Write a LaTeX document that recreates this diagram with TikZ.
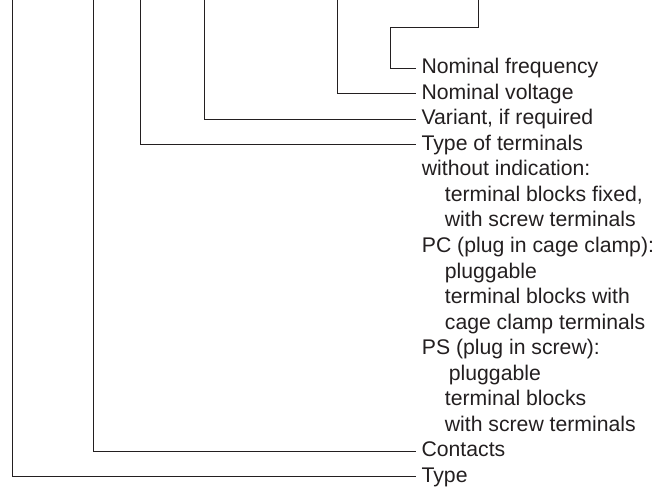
\documentclass[tikz,border=0pt]{standalone}
\usepackage{fontspec}
\setmainfont{Liberation Sans}
\definecolor{ink}{RGB}{35,31,32}
\begin{document}
\begin{tikzpicture}[x=0.5pt,y=-0.5pt,
  lbl/.style={anchor=west,inner sep=0pt,outer xsep=2.8pt,text height=0.72em,text depth=0.18em,
    font=\fontsize{10.6}{12.77}\selectfont,text=ink},
  txt/.style={anchor=west,inner sep=0pt,text height=0.72em,text depth=0.18em,
    font=\fontsize{10.6}{12.77}\selectfont,text=ink},
  conn/.style={draw=ink,line width=0.5pt}]
\useasboundingbox (0,0) rectangle (671,488);
% top ends of connectors
\coordinate (cType) at (12,0);
\coordinate (cCont) at (93.7,0);
\coordinate (cTerm) at (140.7,0);
\coordinate (cVar) at (204.5,0);
\coordinate (cVolt) at (337.3,0);
\coordinate (cFreq) at (478,0);
\coordinate (jA) at (478,27.7);
\coordinate (jB) at (390.7,27.7);
% labels
\node[lbl] (freq) at (416,68.3) {Nominal frequency};
\node[lbl] (volt) at (416,93.84) {Nominal voltage};
\node[lbl] (var) at (416,119.38) {Variant, if required};
\node[lbl] (term) at (416,144.92) {Type of terminals};
\node[txt] (t1) at (421.5,170.46) {without indication:};
\node[txt] (t2) at (444.5,196.0) {terminal blocks fixed,};
\node[txt] (t3) at (444.5,221.54) {with screw terminals};
\node[txt] (t4) at (421.5,247.08) {PC (plug in cage clamp):};
\node[txt] (t5) at (444.5,272.62) {pluggable};
\node[txt] (t6) at (444.5,298.16) {terminal blocks with};
\node[txt] (t7) at (444.5,323.7) {cage clamp terminals};
\node[txt] (t8) at (421.5,349.24) {PS (plug in screw):};
\node[txt] (t9) at (448.5,374.78) {pluggable};
\node[txt] (t10) at (444.5,400.32) {terminal blocks};
\node[txt] (t11) at (444.5,425.86) {with screw terminals};
\node[lbl] (cont) at (416,451.4) {Contacts};
\node[lbl] (type) at (416,476.94) {Type};
% connectors
\draw[conn] (cFreq) -- (jA) -- (jB) |- (freq.west);
\draw[conn] (cVolt) |- (volt.west);
\draw[conn] (cVar) |- (var.west);
\draw[conn] (cTerm) |- (term.west);
\draw[conn] (cCont) |- (cont.west);
\draw[conn] (cType) |- (type.west);
\end{tikzpicture}
\end{document}
